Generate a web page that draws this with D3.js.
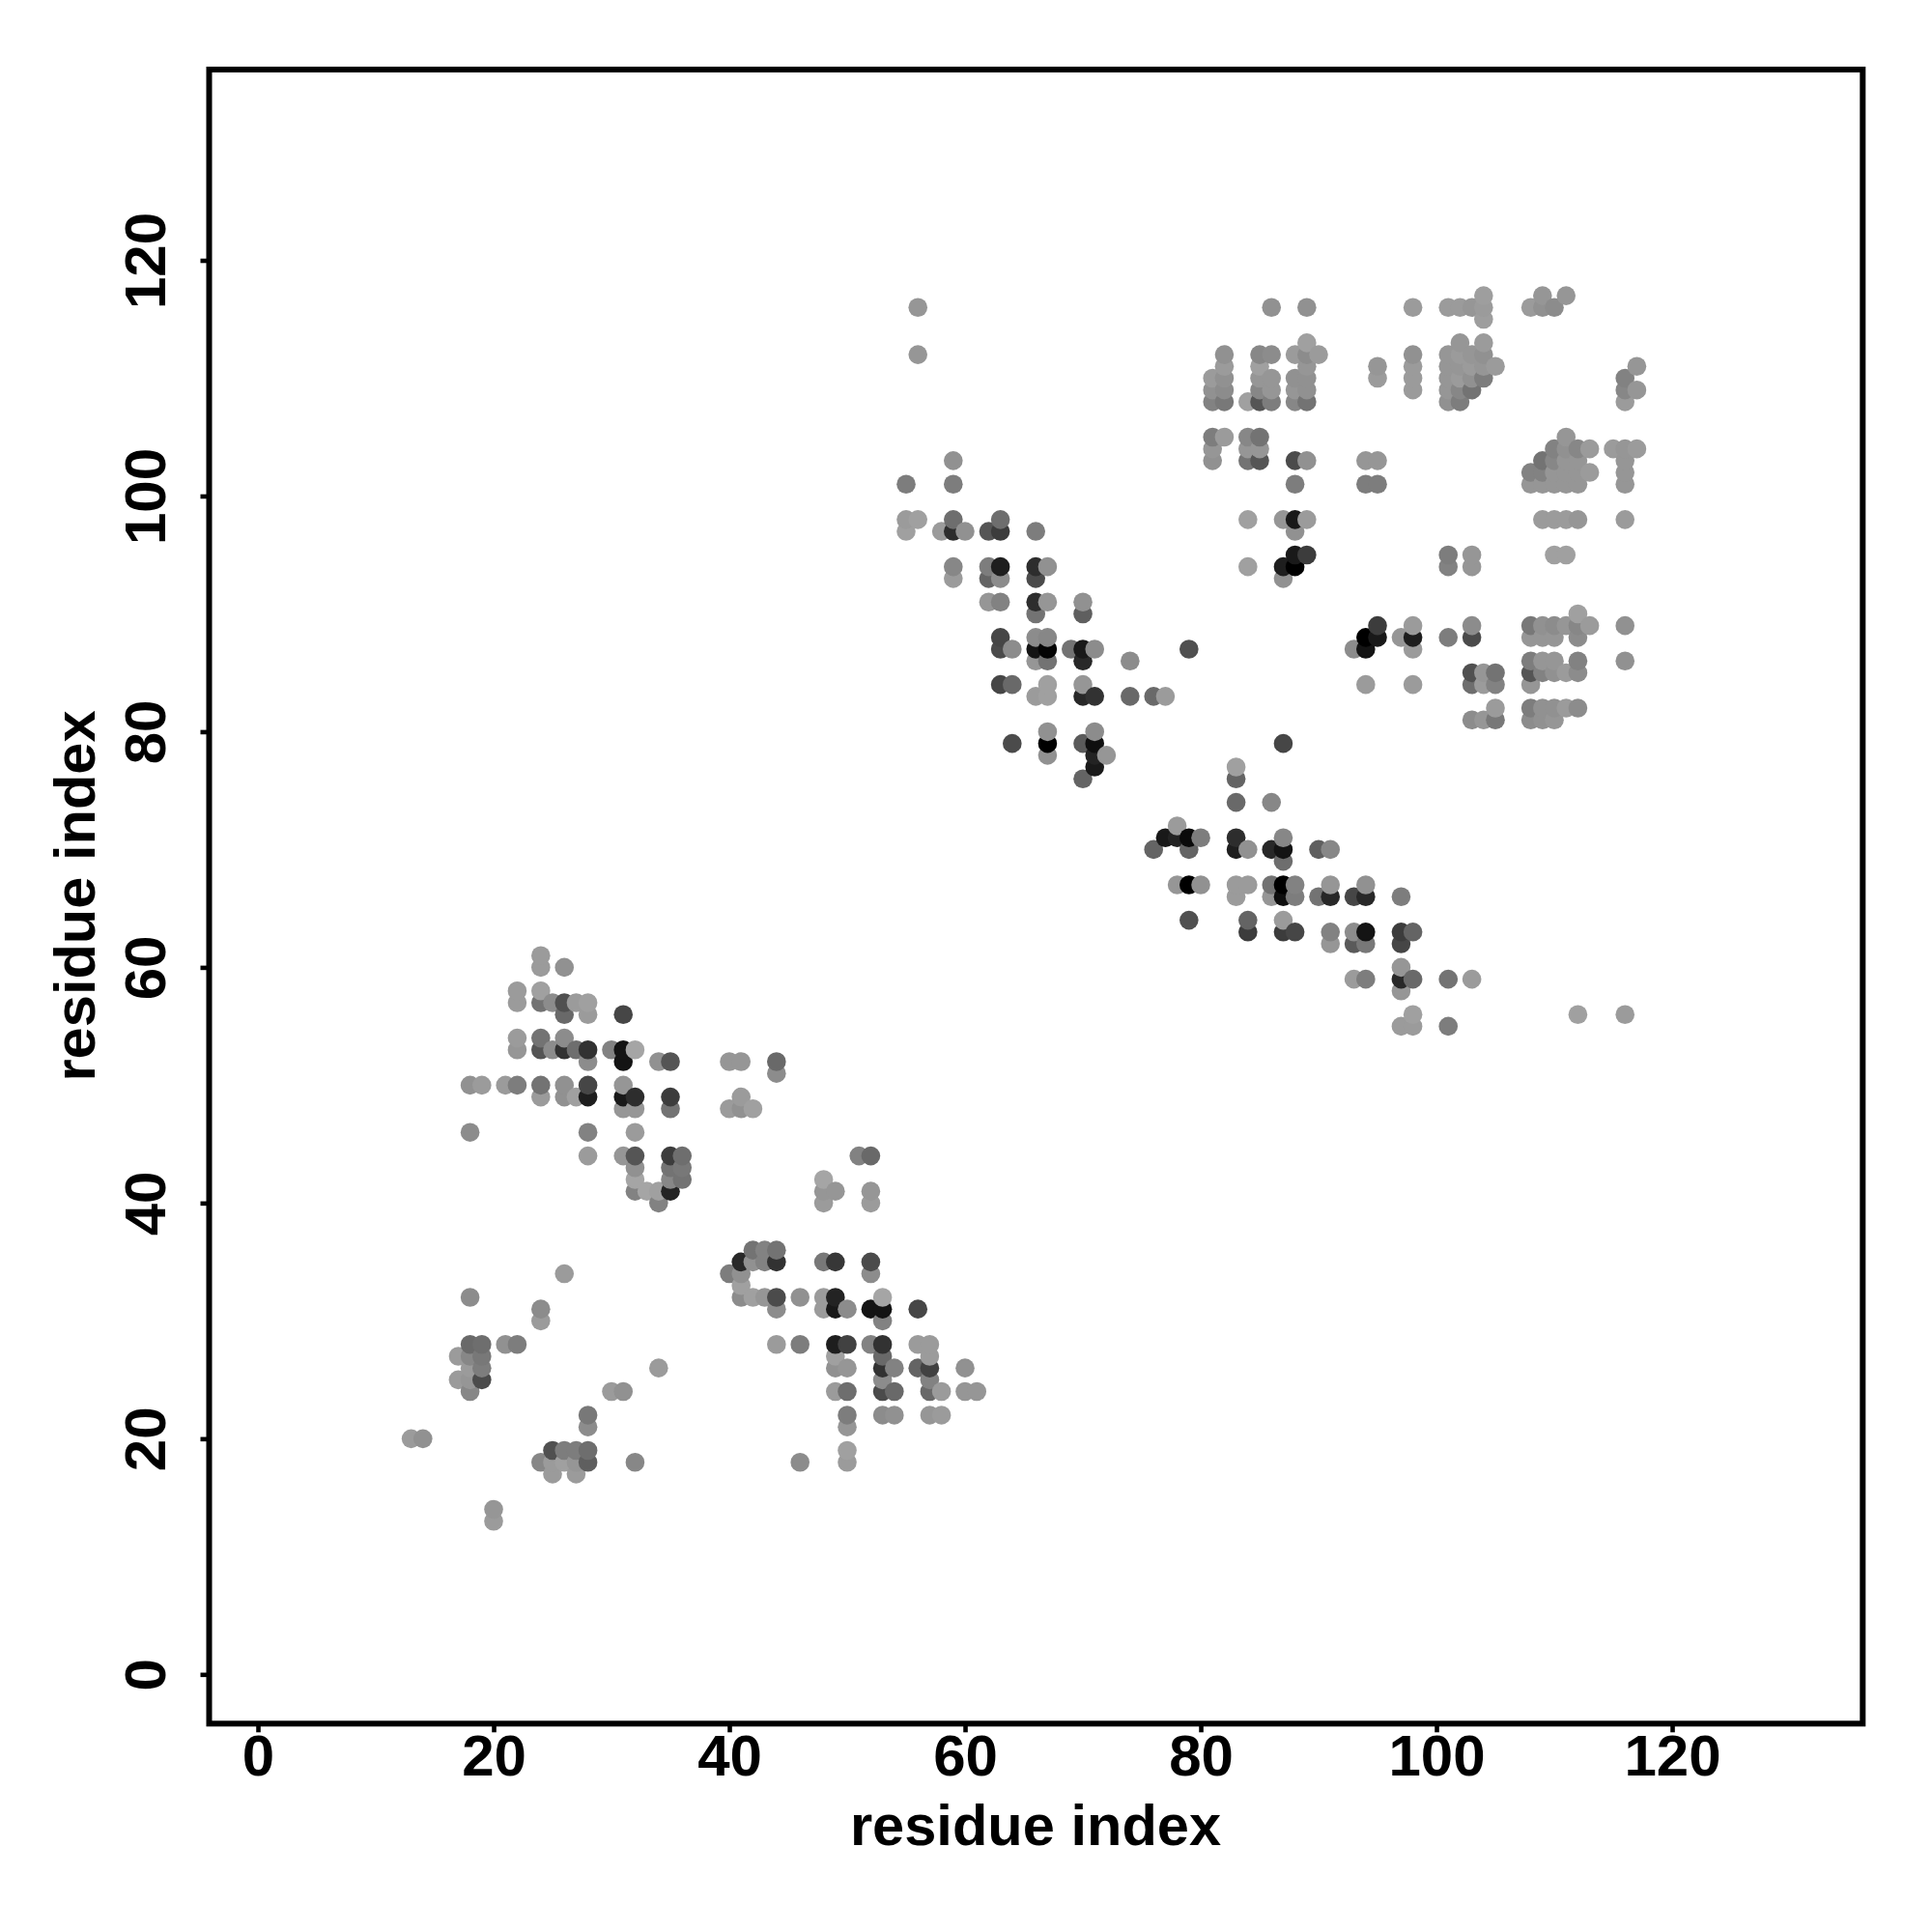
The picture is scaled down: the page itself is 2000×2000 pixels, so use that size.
<!DOCTYPE html>
<html>
<head>
<meta charset="utf-8">
<script src="https://cdnjs.cloudflare.com/ajax/libs/d3/7.8.5/d3.min.js"></script>
<style>
html,body{margin:0;padding:0;background:#fff}
svg{display:block}
text{font-family:"Liberation Sans",Arial,sans-serif;font-weight:bold;fill:#000}
</style>
</head>
<body>
<svg id="chart" width="2000" height="2000"></svg>
<script>
const xTicks = [0,20,40,60,80,100,120];
const yTicks = [0,20,40,60,80,100,120];
const axisTitle = "residue index";

// residue j (row), the residues i in contact with it, and the grey level of each contact
const rowY = [117,116,115,113,112,111,110,109,108,105,104,103,102,101,98,97,95,94,93,91,90,89,88,87,86,85,84,83,82,81,80,79,78,77,76,74,72,71,70,69,67,66,64,63,62,61,60,59,58,57,56,55,54,53,52,51,50,49,48,46,44,43,42,41,40,36,35,34,33,32,31,30,28,27,26,25,24,22,21,20,19,18,17,14,13];
const rowX = [
 [104,109,111],
 [56,86,89,98,101,102,103,104,108,109,110],
 [104],
 [89,102,104],
 [56,82,85,86,88,89,90,98,101,102,103,104],
 [82,85,89,95,98,101,102,103,104,105,117],
 [81,82,85,86,88,89,95,98,101,102,103,104,116],
 [81,82,85,86,88,89,98,101,102,103,116,117],
 [81,82,84,85,86,88,89,101,102,116],
 [81,82,84,85,111],
 [81,84,85,110,111,112,113,115,116,117],
 [59,81,84,85,88,89,94,95,109,110,111,112,116],
 [108,109,110,111,112,113,116],
 [55,59,88,94,95,108,109,110,111,112,116],
 [55,56,59,63,84,87,88,89,109,110,111,112,116],
 [55,58,59,60,62,63,66,88],
 [88,89,101,103,110,111],
 [59,62,63,66,67,84,87,88,101,103],
 [59,62,63,66,87],
 [62,63,66,67,70],
 [66,70,112],
 [95,98,103,108,109,110,111,112,113,116],
 [63,66,67,94,95,97,98,101,103,108,109,110,112],
 [63,64,66,67,69,70,71,79,93,94,98],
 [66,67,70,74,108,109,110,112,116],
 [103,104,105,108,109,110,111,112],
 [63,64,67,70,94,98,103,104,105,108],
 [66,67,70,71,74,76,77],
 [105,108,109,110,111,112],
 [103,104,105,108,109,110],
 [67,71],
 [64,67,70,71,87],
 [67,71,72],
 [71,83],
 [70,83],
 [83,86],
 [78],
 [77,78,79,80,83,87],
 [76,79,83,84,86,87,90,91],
 [87],
 [78,79,80,83,84,86,87,88,91,94],
 [83,86,87,88,90,91,93,94,97],
 [79,84,87],
 [84,87,88,91,93,94,97,98],
 [91,93,94,97],
 [24],
 [24,26,97],
 [93,94,97,98,101,103],
 [22,24,97],
 [22,24,25,26,27,28],
 [26,28,31,98,112,116],
 [97,98,101],
 [22,24,26],
 [22,24,25,26,27,28,30,31,32],
 [28,31,34,35,40,41,44],
 [44],
 [18,19,21,22,24,26,28,31],
 [24,26,27,28,31,32,35,41],
 [31,32,35,40,41,42],
 [18,28,32],
 [28,31,32,35,36,51,52],
 [32,35,36],
 [32,35,36,48],
 [32,33,34,35,48,49,52],
 [34,48,52],
 [42,43,44],
 [41,42,43,44,48,49,52],
 [26,40,41,52],
 [41],
 [18,41,42,43,44,46,48,49,53],
 [24,44,48,49,50,52,53,56],
 [24,53],
 [18,19,21,22,44,46,49,50,52,53,56,57],
 [17,18,19,49,53,57],
 [18,19,34,49,50,53,54,56,57,60],
 [17,18,19,53,57],
 [18,30,31,49,50,53,54,57,58,60,61],
 [28,50,53,54,57,58],
 [28,50],
 [13,14],
 [25,26,27,28,50],
 [24,25,26,27,28,32,46,50],
 [25,27],
 [20],
 [20]
];
const rowShade = [
 [158,150,150],
 [150,145,145,155,155,155,150,155,155,145,140],
 [158],
 [160,150,155],
 [150,145,135,140,155,140,155,145,150,155,150,145],
 [155,160,150,150,155,150,150,155,150,155,150],
 [155,145,150,150,145,145,155,155,150,155,145,125,130],
 [145,140,135,150,150,145,155,150,135,115,135,150],
 [130,120,160,85,125,135,115,145,125,155],
 [125,155,135,115,150],
 [150,150,150,130,145,135,155,155,150,155],
 [145,145,115,85,75,145,150,150,115,135,150,150,150],
 [130,130,150,150,150,155,150],
 [125,125,125,125,125,150,150,150,150,150,150],
 [155,160,110,110,160,150,25,155,155,155,155,150,155],
 [160,155,45,145,85,60,125,145],
 [25,60,125,150,160,160],
 [135,125,30,45,145,160,30,0,130,150],
 [155,100,140,75,145],
 [150,130,45,150,145],
 [115,95,160],
 [60,155,140,120,145,140,150,135,155,145],
 [70,140,135,0,25,150,30,125,75,150,150,150,140],
 [75,140,20,5,115,25,140,80,140,20,155],
 [150,115,40,140,125,150,150,130,145],
 [80,150,115,85,130,145,155,140],
 [70,105,160,150,155,155,110,155,130,150],
 [155,160,40,50,105,105,155],
 [155,125,145,145,155,140],
 [140,150,120,140,145,150],
 [145,140],
 [75,0,90,15,70],
 [145,35,150],
 [25,160],
 [100,100],
 [105,135],
 [155],
 [25,35,10,125,45,135],
 [100,100,30,145,40,20,95,135],
 [110],
 [150,0,145,155,155,115,0,130,150,145],
 [155,150,15,125,115,40,70,40,125],
 [80,100,155],
 [60,60,70,130,140,20,60,100],
 [150,90,120,70],
 [155],
 [155,145,150],
 [155,125,40,105,115,155],
 [155,160,150],
 [155,115,140,80,155,160],
 [105,155,70,160,160,155],
 [155,155,125],
 [155,115,140],
 [150,85,140,50,110,50,130,20,165],
 [140,20,145,85,150,150,105],
 [140],
 [145,155,155,125,115,145,70,150],
 [155,145,160,30,25,45,60,155],
 [150,150,115,155,145,160],
 [140,130,155],
 [155,150,85,60,110,130,105],
 [145,115,120],
 [165,135,115,165],
 [130,165,160,35,150,150,150],
 [130,155,155],
 [115,130,115],
 [40,145,130,50,120,55,75],
 [155,125,145,140],
 [160],
 [140,140,160,150,75,145,155,35,165],
 [140,140,155,25,140,20,20,70],
 [155,130],
 [105,110,145,125,155,125,30,65,130,50,155,155],
 [155,135,120,160,105,155],
 [155,125,155,145,150,50,130,100,65,145],
 [155,150,75,140,130],
 [135,155,145,155,110,75,105,105,155,150,150],
 [120,125,140,145,150,155],
 [140,150],
 [155,145],
 [80,125,125,110,160],
 [135,155,160,150,95,135,140,155],
 [155,155],
 [150],
 [155]
];

const W = 2000, H = 2000;
const plot = {left:216.5, right:1928.3, top:72, bottom:1784.3};

const x = d3.scaleLinear().domain([-4.14, 136.17]).range([plot.left, plot.right]);
const y = d3.scaleLinear().domain([-4.18, 136.19]).range([plot.bottom, plot.top]);

const contacts = rowY.flatMap((j, r) => rowX[r].map((i, c) => ({i, j, shade: rowShade[r][c]})))
  .sort((a, b) => d3.ascending(a.i, b.i) || d3.ascending(a.j, b.j));

const svg = d3.select("#chart");
svg.append("rect").attr("width", W).attr("height", H).attr("fill", "#fff");

svg.append("g").selectAll("circle").data(contacts).join("circle")
  .attr("cx", d => x(d.i))
  .attr("cy", d => y(d.j))
  .attr("r", 9.8)
  .attr("fill", d => d3.rgb(d.shade, d.shade, d.shade));

svg.append("rect")
  .attr("x", plot.left).attr("y", plot.top)
  .attr("width", plot.right - plot.left).attr("height", plot.bottom - plot.top)
  .attr("fill", "none").attr("stroke", "#000").attr("stroke-width", 6);

const gx = svg.append("g").attr("transform", `translate(0,${plot.bottom})`)
  .call(d3.axisBottom(x).tickValues(xTicks).tickSize(9).tickFormat(d3.format("d")));
gx.select(".domain").remove();
gx.selectAll("line").attr("stroke", "#000").attr("stroke-width", 4.6);
gx.selectAll("text").attr("y", 54).attr("dy", 0).attr("font-size", 60).attr("font-family", null)
  .attr("text-anchor", "middle");

const gy = svg.append("g").attr("transform", `translate(${plot.left},0)`)
  .call(d3.axisLeft(y).tickValues(yTicks).tickSize(9).tickFormat(d3.format("d")));
gy.select(".domain").remove();
gy.selectAll("line").attr("stroke", "#000").attr("stroke-width", 4.6);
gy.selectAll("text").attr("x", null).attr("dy", 0).attr("font-size", 60)
  .attr("text-anchor", "middle").attr("transform", "translate(-45.8,0) rotate(-90)");

svg.append("text").attr("x", 1072).attr("y", 1910).attr("text-anchor", "middle")
  .attr("font-size", 59.6).text(axisTitle);
svg.append("text").attr("transform", "translate(98,927.5) rotate(-90)").attr("text-anchor", "middle")
  .attr("font-size", 59.6).text(axisTitle);
</script>
</body>
</html>
